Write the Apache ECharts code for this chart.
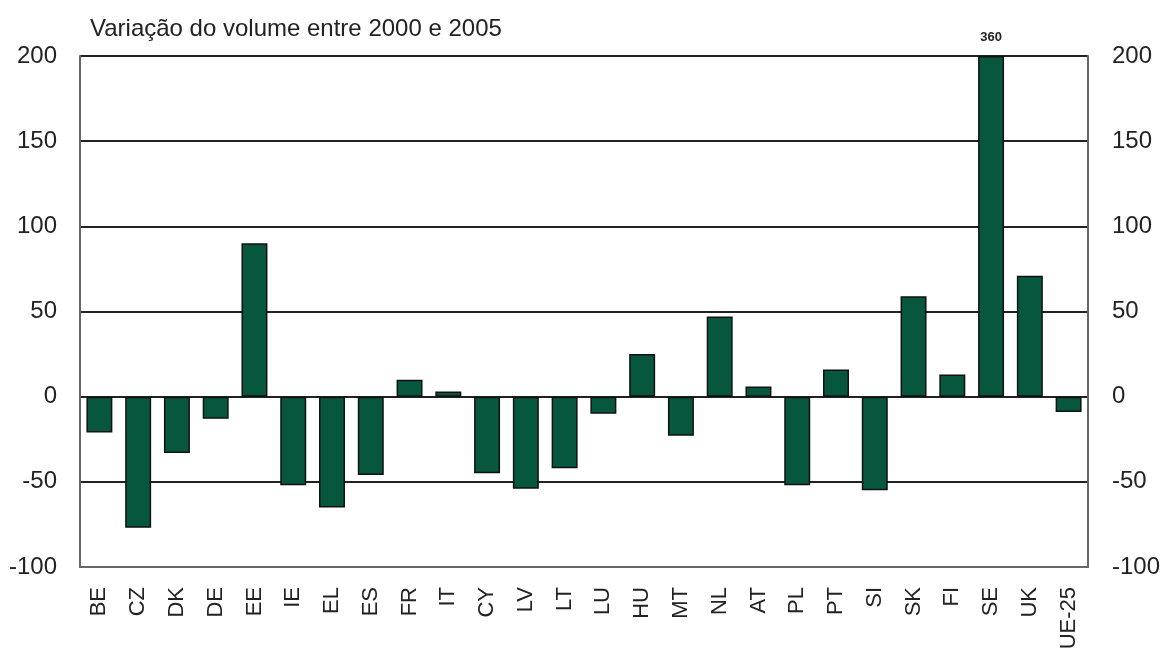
<!DOCTYPE html>
<html><head><meta charset="utf-8">
<script src="https://cdn.jsdelivr.net/npm/echarts@6/dist/echarts.min.js"></script>
<style>html,body{margin:0;padding:0;background:#fff}#c{width:1160px;height:648px}</style>
</head><body><div id="c"></div>
<script>
const title = 'Variação do volume entre 2000 e 2005';
const categories = ['BE','CZ','DK','DE','EE','IE','EL','ES','FR','IT','CY','LV','LT','LU','HU','MT','NL','AT','PL','PT','SI','SK','FI','SE','UK','UE-25'];
const values = [-21,-77,-33,-13,90,-52,-65,-46,10,3,-45,-54,-42,-10,25,-23,47,6,-52,16,-55,59,13,360,71,-9];
const yMin = -100, yMax = 200, yStep = 50;

const chart = echarts.init(document.getElementById('c'));
const font = 'Liberation Sans, Arial, sans-serif';
const yAxisBase = {
  type: 'value', min: yMin, max: yMax, interval: yStep,
  axisLine: {show: true, lineStyle: {color: '#666', width: 2}},
  axisTick: {show: false},
  axisLabel: {fontFamily: font, fontSize: 24, color: '#222'},
};
chart.setOption({
  animation: false,
  title: {text: title, left: 85, top: 12, textStyle: {fontFamily: font, fontSize: 24, fontWeight: 'normal', color: '#222'}},
  grid: {left: 80, right: 72, top: 56, bottom: 81, containLabel: false, outerBoundsMode: 'none'},
  xAxis: {
    type: 'category', data: categories,
    axisLine: {show: true, onZero: false, lineStyle: {color: '#666', width: 2}},
    axisTick: {show: false},
    axisLabel: {rotate: 90, fontFamily: font, fontSize: 22, color: '#222', margin: 20, interval: 0, hideOverlap: false}
  },
  yAxis: [
    Object.assign({}, yAxisBase, {position: 'left', axisLabel: Object.assign({}, yAxisBase.axisLabel, {margin: 23}),
      splitLine: {show: true, lineStyle: {color: '#222', width: 2}}}),
    Object.assign({}, yAxisBase, {position: 'right', axisLabel: Object.assign({}, yAxisBase.axisLabel, {margin: 24}),
      splitLine: {show: false}})
  ],
  series: [{
    type: 'bar', barWidth: '67%',
    data: values.map(v => ({
      value: Math.min(v, yMax),
      label: v > yMax ? {show: true, position: 'top', distance: 12, formatter: String(v), fontFamily: font, fontSize: 13, fontWeight: 'bold', color: '#222'} : {show: false}
    })),
    itemStyle: {color: '#07573F', borderColor: '#111', borderWidth: 1.5}
  }]
});
</script></body></html>
